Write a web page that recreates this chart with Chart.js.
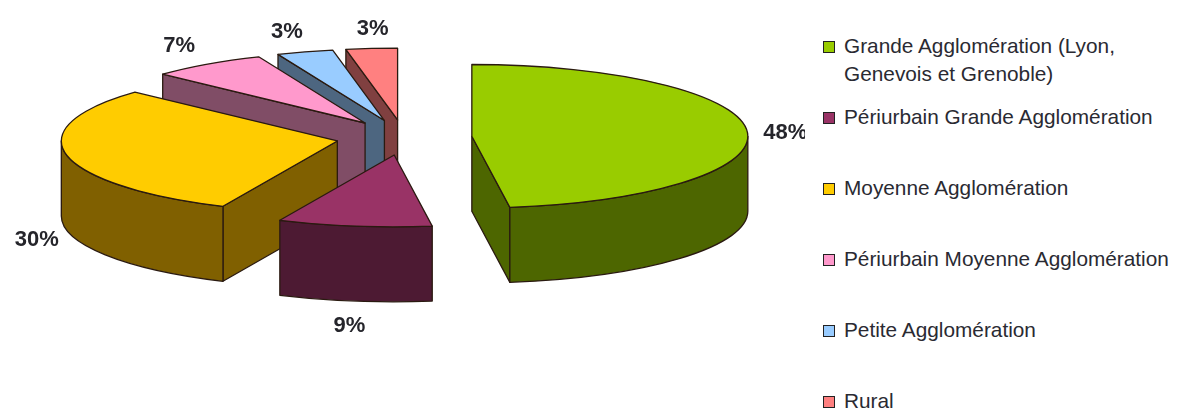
<!DOCTYPE html>
<html>
<head>
<meta charset="utf-8">
<script src="https://cdn.jsdelivr.net/npm/chart.js@4/dist/chart.umd.min.js"></script>
<style>
  html, body { margin: 0; padding: 0; background: #fff; overflow: hidden; }
  #wrap { position: relative; width: 1187px; height: 409px; font-family: "Liberation Sans", Arial, sans-serif; }
  #pie { position: absolute; left: 0; top: 0; }
  #legend { position: absolute; left: 823px; top: 32px; color: #2a2a32; font-size: 20.8px; line-height: 28px; white-space: nowrap; }
  .row { position: relative; padding-left: 21px; margin-bottom: 43px; white-space: pre; }
  .row:first-child { margin-bottom: 15px; }
  .swatch { position: absolute; left: 0; top: 9px; width: 10px; height: 10px; border: 1px solid #222; }
</style>
</head>
<body>
<div id="wrap">
  <canvas id="pie" width="805" height="409"></canvas>
  <div id="legend"></div>
</div>
<script>
const categories = [
  ['Grande Agglomération (Lyon,', 'Genevois et Grenoble)'],
  ['Périurbain Grande Agglomération'],
  ['Moyenne Agglomération'],
  ['Périurbain Moyenne Agglomération'],
  ['Petite Agglomération'],
  ['Rural']
];
// the printed labels are these rounded
const shares = [47.8, 9, 30.1, 6.8, 3.3, 3];
const faceColors = ['#99cc00', '#993366', '#ffcc00', '#ff99cc', '#99ccff', '#ff8080'];
const sideColors = ['#4d6600', '#4d1a33', '#806000', '#804d66', '#4d6680', '#804040'];
// label shift from the outer middle of each slice
const labelShiftX = [38, -5, -30, -28, -18, 1];
const labelShiftY = [2, 100, 85, -18, -20, -20];

const TILT = 0.26;     // squash of the pie
const DEPTH = 75;      // height of the walls
const EXPLODE = 68;    // how far every slice is pulled out

const pie3d = {
  id: 'pie3d',
  beforeDatasetsDraw(chart) {
    const ctx = chart.ctx;
    const arcs = chart.getDatasetMeta(0).data;
    const mid = a => (a.startAngle + a.endAngle) / 2;

    // back slices first, so front slices cover them
    const order = arcs.map((a, i) => i).sort((p, q) => Math.sin(mid(arcs[p])) - Math.sin(mid(arcs[q])));

    ctx.save();
    ctx.lineWidth = 1.3;
    ctx.lineJoin = 'round';
    order.forEach(i => {
      const a = arcs[i];
      const r = a.outerRadius;
      const ry = r * TILT;
      const cx = a.x + Math.cos(mid(a)) * EXPLODE;
      const cy = a.y + Math.sin(mid(a)) * EXPLODE * TILT;
      const px = t => cx + Math.cos(t) * r;
      const py = t => cy + Math.sin(t) * ry;

      ctx.strokeStyle = '#2a1a10';
      ctx.fillStyle = sideColors[i];

      // cut sides, only the ones facing us
      const cuts = [];
      if (Math.cos(a.startAngle) < -1e-6) cuts.push(a.startAngle);
      if (Math.cos(a.endAngle) > 1e-6) cuts.push(a.endAngle);
      cuts.forEach(t => {
        ctx.beginPath();
        ctx.moveTo(cx, cy);
        ctx.lineTo(px(t), py(t));
        ctx.lineTo(px(t), py(t) + DEPTH);
        ctx.lineTo(cx, cy + DEPTH);
        ctx.closePath();
        ctx.fill();
        ctx.stroke();
      });

      // outer wall, only the part facing us
      const from = Math.max(a.startAngle, 0);
      const to = Math.min(a.endAngle, Math.PI);
      if (to > from) {
        ctx.beginPath();
        ctx.ellipse(cx, cy, r, ry, 0, from, to);
        ctx.ellipse(cx, cy + DEPTH, r, ry, 0, to, from, true);
        ctx.closePath();
        ctx.fill();
        ctx.stroke();
      }

      // top face
      ctx.fillStyle = faceColors[i];
      ctx.beginPath();
      ctx.moveTo(cx, cy);
      ctx.ellipse(cx, cy, r, ry, 0, a.startAngle, a.endAngle);
      ctx.closePath();
      ctx.fill();
      ctx.stroke();
    });

    // percent labels
    ctx.fillStyle = '#25252b';
    ctx.font = 'bold 22px "Liberation Sans", Arial, sans-serif';
    ctx.textAlign = 'center';
    ctx.textBaseline = 'middle';
    arcs.forEach((a, i) => {
      const t = mid(a);
      const x = a.x + Math.cos(t) * (EXPLODE + a.outerRadius);
      const y = a.y + Math.sin(t) * (EXPLODE + a.outerRadius) * TILT;
      ctx.fillText(Math.round(shares[i]) + '%', x + labelShiftX[i], y + labelShiftY[i]);
    });
    ctx.restore();
    return false;
  }
};

new Chart(document.getElementById('pie'), {
  type: 'pie',
  data: {
    labels: categories.map(c => c.join(' ')),
    datasets: [{ data: shares, backgroundColor: faceColors, borderWidth: 0 }]
  },
  options: {
    responsive: false,
    animation: false,
    radius: 276,
    layout: { padding: { left: 3, bottom: 134 } },
    plugins: { legend: { display: false }, tooltip: { enabled: false } }
  },
  plugins: [pie3d]
});

const legend = document.getElementById('legend');
categories.forEach((lines, i) => {
  const row = document.createElement('div');
  row.className = 'row';
  const sw = document.createElement('span');
  sw.className = 'swatch';
  sw.style.background = faceColors[i];
  row.appendChild(sw);
  row.appendChild(document.createTextNode(lines.join('\n')));
  legend.appendChild(row);
});
</script>
</body>
</html>
